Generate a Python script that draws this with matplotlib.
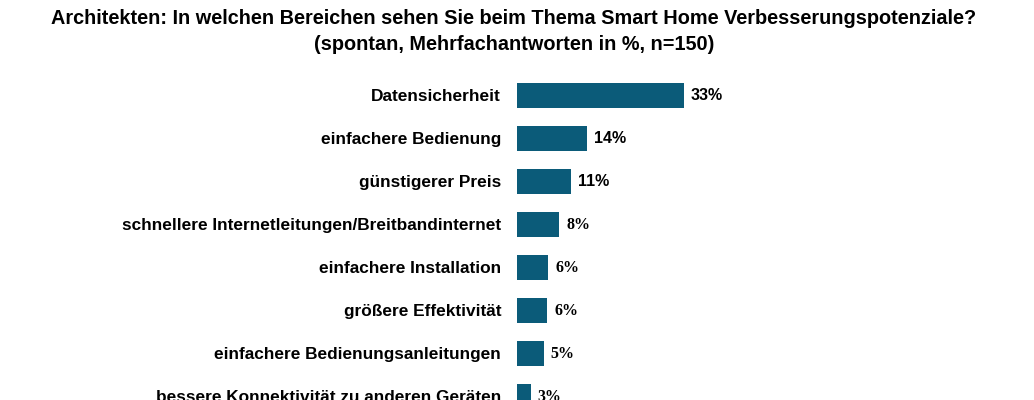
import matplotlib
matplotlib.use("Agg")
import matplotlib.pyplot as plt

categories = [
    "Datensicherheit",
    "einfachere Bedienung",
    "günstigerer Preis",
    "schnellere Internetleitungen/Breitbandinternet",
    "einfachere Installation",
    "größere Effektivität",
    "einfachere Bedienungsanleitungen",
    "bessere Konnektivität zu anderen Geräten",
]
values = [33.3, 14.0, 10.7, 8.4, 6.2, 6.0, 5.3, 2.7]
value_labels = ["33%", "14%", "11%", "8%", "6%", "6%", "5%", "3%"]

title_lines = [
    "Architekten: In welchen Bereichen sehen Sie beim Thema Smart Home Verbesserungspotenziale?",
    "(spontan, Mehrfachantworten in %, n=150)",
]

W, H = 1034, 400
fig = plt.figure(figsize=(W / 100, H / 100), dpi=100)
fig.patch.set_facecolor("white")

# axes: left edge at x=517px, 5 px per percent
ax = fig.add_axes([517 / W, 0, 500 / W, 1])
ax.set_xlim(0, 100)
row_px = 43.0
top_row_px = 95.0
y_top = -top_row_px / row_px
ax.set_ylim(y_top + H / row_px, y_top)

bar_color = "#0B5B79"
ys = list(range(len(categories)))
ax.barh(ys, values, height=25 / row_px, color=bar_color)

ax.set_yticks(ys)
ax.set_yticklabels(categories, fontsize=12.4, fontweight="bold", family="Liberation Sans")
ax.tick_params(axis="y", length=0, pad=11.5)
ax.tick_params(axis="x", length=0, labelbottom=False)
for s in ax.spines.values():
    s.set_visible(False)
ax.set_xticks([])

for y, v, lab in zip(ys, values, value_labels):
    fam = "Liberation Serif" if len(lab) <= 2 else "Liberation Sans"
    ax.annotate(lab, xy=(v, y), xytext=(5.2, -0.6), textcoords="offset points",
                ha="left", va="center", fontsize=11.5, fontweight="bold",
                family=fam, color="black")

for yp, line in zip([18, 45], title_lines):
    fig.text(514 / W, 1 - yp / H, line, ha="center", va="center", fontsize=14.3,
             fontweight="bold", family="Liberation Sans")

fig.savefig("out.png", dpi=100, facecolor="white")
